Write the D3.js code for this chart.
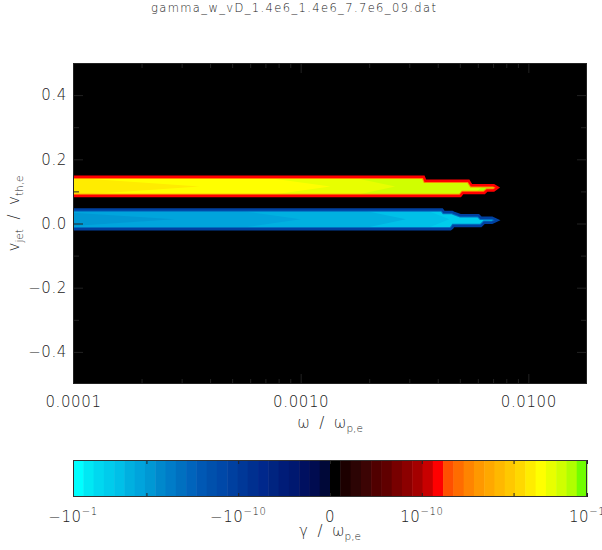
<!DOCTYPE html>
<html>
<head>
<meta charset="utf-8">
<script src="https://cdn.jsdelivr.net/npm/d3@7"></script>
<style>
  body { margin: 0; background: #fff; }
  svg { display: block; }
  text { font-family: 'DejaVu Sans', sans-serif; font-weight: 200; fill: #222; white-space: pre; }
</style>
</head>
<body>
<div id="chart"></div>
<script>
// ---- data ----
const titleText = 'gamma_w_vD_1.4e6_1.4e6_7.7e6_09.dat';

const omegaDomain = [1e-4, 0.0181];
const vDomain = [-0.5, 0.5];
const xMajorTicks = [1e-4, 1e-3, 1e-2];
const yMajorTicks = [-0.4, -0.2, 0, 0.2, 0.4];
const yMinorTicks = [-0.3, -0.1, 0.1, 0.3];

// growth region (gamma > 0), edges in (omega, v_jet)
const yellowOmega = [5e-5, 3.47e-3, 3.53e-3, 5.03e-3, 5.15e-3, 5.47e-3, 5.63e-3, 6.41e-3, 6.59e-3, 7.05e-3, 7.34e-3];
const yellowTop = [0.146, 0.146, 0.133, 0.133, 0.133, 0.133, 0.119, 0.119, 0.119, 0.119, 0.112];
const yellowBot = [0.086, 0.086, 0.086, 0.086, 0.095, 0.095, 0.095, 0.095, 0.103, 0.103, 0.112];
// inner contour levels (colour index, omega at band edge, omega at band centre)
const yellowLevels = [44, 45, 46, 47, 48];
const yellowWedgeEdge = [null, 8.8e-5, 6.7e-4, 1.65e-3, 5.6e-3];
const yellowWedgeTip = [null, 3.6e-4, 1.35e-3, 2.6e-3, 6.3e-3];
const yellowCentre = 0.115;

// damping region (gamma < 0)
const blueOmega = [5e-5, 4.18e-3, 4.26e-3, 4.55e-3, 4.63e-3, 4.69e-3, 5.03e-3, 6.04e-3, 6.19e-3, 6.41e-3, 6.93e-3, 7.32e-3];
const blueTop = [0.044, 0.044, 0.036, 0.036, 0.036, 0.034, 0.026, 0.026, 0.018, 0.018, 0.018, 0.010];
const blueBot = [-0.018, -0.018, -0.018, -0.018, -0.014, -0.008, -0.008, -0.008, -0.008, 0.0025, 0.0025, 0.010];
const blueLevels = [7, 6, 5, 4, 3, 2];
const blueWedgeEdge = [null, 5.9e-5, 4.9e-4, 1.8e-3, 3.5e-3, 6.0e-3];
const blueWedgeTip = [null, 2.8e-4, 1.0e-3, 2.9e-3, 4.5e-3, 6.8e-3];
const blueCentre = 0.013;

// colour bar: signed log axis, t = sign * (log10|gamma| + 15)
const cbarColors = [
  '#00ffff', '#00e8f4', '#00d8f0', '#00ccec', '#00c0e8', '#00b0e0', '#00a4dc', '#0098d4', '#0088cc', '#007cc8',
  '#0070c0', '#0064bc', '#0058b4', '#0050ac', '#0048a8', '#0040a0', '#003898', '#003090', '#00288c', '#002480',
  '#001c78', '#001870', '#001060', '#000c50', '#000838',
  '#000000', '#1c0000', '#2c0404', '#3c0404', '#500000', '#600000', '#780000', '#8c0000', '#a40000', '#c80000',
  '#ff0000', '#ff5000', '#ff6c00', '#ff8400', '#ff9800', '#ffa800', '#ffb800', '#ffc800', '#ffd800', '#ffec00',
  '#ffff00', '#e8ff00', '#d0ff00', '#b0ff00', '#70ff00'
];
const cbarDomain = [-14, 14];
const cbarTicks = [-14, -10, -5, 0, 5, 10, 14];
const cbarTickLabels = [
  [['−10', 0], ['−1', -1]],
  [],
  [['−10', 0], ['−10', -1]],
  [['0', 0]],
  [['10', 0], ['−10', -1]],
  [],
  [['10', 0], ['−1', -1]]
];
const xTitleParts = [['ω  /  ω', 0], ['p,e', 1]];
const yTitleParts = [['v', 0], ['jet', 1], ['  /  ', 0], ['v', 0], ['th,e', 1]];
const cTitleParts = [['γ  /  ω', 0], ['p,e', 1]];

// ---- layout ----
const width = 602;
const height = 550;
const plotL = 73, plotR = 587, plotT = 63, plotB = 384;
const cbarT = 460, cbarB = 497;

const svg = d3.select('#chart').append('svg')
  .attr('width', width)
  .attr('height', height);
const defs = svg.append('defs');

const x = d3.scaleLog().domain(omegaDomain).range([plotL, plotR]);
const y = d3.scaleLinear().domain(vDomain).range([plotB, plotT]);
const cb = d3.scaleLinear().domain(cbarDomain).range([plotL, plotR]);

// text with sub/superscripts
function richText(sel, parts, size, smallSize) {
  let off = 0;
  parts.forEach(p => {
    const shift = p[1] === 1 ? 4 : p[1] === -1 ? -7 : 0;
    sel.append('tspan')
      .attr('dy', shift - off)
      .attr('font-size', p[1] === 0 ? size : smallSize)
      .text(p[0]);
    off = shift;
  });
}

svg.append('text')
  .attr('x', 293.5)
  .attr('y', 12)
  .attr('text-anchor', 'middle')
  .attr('font-size', 11.5)
  .attr('textLength', 285)
  .attr('lengthAdjust', 'spacing')
  .text(titleText);

// plot area
defs.append('clipPath').attr('id', 'plot-clip')
  .append('rect')
  .attr('x', plotL).attr('y', plotT)
  .attr('width', plotR - plotL).attr('height', plotB - plotT);

svg.append('rect')
  .attr('x', plotL).attr('y', plotT)
  .attr('width', plotR - plotL).attr('height', plotB - plotT)
  .attr('fill', '#000');

const plot = svg.append('g').attr('clip-path', 'url(#plot-clip)');

const area = d3.area()
  .x(d => x(d.w))
  .y0(d => y(d.b))
  .y1(d => y(d.t));
const line = d3.line().x(d => x(d[0])).y(d => y(d[1]));

function drawBand(id, omega, top, bot, levels, edges, tips, centre, outerCol, innerCol) {
  const pts = omega.map((w, i) => ({ w, t: top[i], b: bot[i] }));
  const half = (d3.max(top) - d3.min(bot)) / 2;
  defs.append('clipPath').attr('id', id)
    .append('path').attr('d', area(pts));
  const g = plot.append('g').attr('clip-path', `url(#${id})`);
  g.append('path').attr('d', area(pts)).attr('fill', cbarColors[levels[0]]);
  levels.forEach((lv, k) => {
    if (k === 0) return;
    const poly = [
      [edges[k], centre + 1], [edges[k], centre + half], [tips[k], centre],
      [edges[k], centre - half], [edges[k], centre - 1], [1, centre - 1], [1, centre + 1]
    ];
    g.append('path').attr('d', line(poly) + 'Z').attr('fill', cbarColors[lv]);
  });
  g.append('path').attr('d', area(pts))
    .attr('fill', 'none').attr('stroke', innerCol).attr('stroke-width', 4.5);
  plot.append('path').attr('d', area(pts))
    .attr('fill', 'none').attr('stroke', outerCol).attr('stroke-width', 2.5);
}

drawBand('yellow-clip', yellowOmega, yellowTop, yellowBot, yellowLevels,
  yellowWedgeEdge, yellowWedgeTip, yellowCentre, cbarColors[35], cbarColors[38]);
drawBand('blue-clip', blueOmega, blueTop, blueBot, blueLevels,
  blueWedgeEdge, blueWedgeTip, blueCentre, cbarColors[15], cbarColors[10]);

// axes, ticks pointing inwards
const xMinor = x.ticks().filter(v => xMajorTicks.indexOf(v) < 0);

function styleAxis(g) {
  g.select('.domain').remove();
  g.attr('color', '#222')
    .attr('font-size', 15)
    .attr('font-family', "'DejaVu Sans', sans-serif");
  g.selectAll('text').attr('letter-spacing', 0.6);
}

svg.append('g')
  .attr('transform', `translate(0,${plotB})`)
  .call(d3.axisBottom(x).tickValues(xMajorTicks).tickSize(-10).tickPadding(12.3).tickFormat(d3.format('.4f')))
  .call(styleAxis);
svg.append('g')
  .attr('transform', `translate(0,${plotB})`)
  .call(d3.axisBottom(x).tickValues(xMinor).tickSize(-5).tickFormat(''))
  .call(styleAxis);
svg.append('g')
  .attr('transform', `translate(0,${plotT})`)
  .call(d3.axisTop(x).tickValues(xMajorTicks).tickSize(-10).tickFormat(''))
  .call(styleAxis);
svg.append('g')
  .attr('transform', `translate(0,${plotT})`)
  .call(d3.axisTop(x).tickValues(xMinor).tickSize(-5).tickFormat(''))
  .call(styleAxis);

svg.append('g')
  .attr('transform', `translate(${plotL},0)`)
  .call(d3.axisLeft(y).tickValues(yMajorTicks).tickSize(-10).tickPadding(6).tickFormat(d3.format('.1f')))
  .call(styleAxis);
svg.append('g')
  .attr('transform', `translate(${plotL},0)`)
  .call(d3.axisLeft(y).tickValues(yMinorTicks).tickSize(-6).tickFormat(''))
  .call(styleAxis);
svg.append('g')
  .attr('transform', `translate(${plotR},0)`)
  .call(d3.axisRight(y).tickValues(yMajorTicks).tickSize(-10).tickFormat(''))
  .call(styleAxis);
svg.append('g')
  .attr('transform', `translate(${plotR},0)`)
  .call(d3.axisRight(y).tickValues(yMinorTicks).tickSize(-6).tickFormat(''))
  .call(styleAxis);

svg.append('rect')
  .attr('x', plotL + 0.5).attr('y', plotT + 0.5)
  .attr('width', plotR - plotL - 1).attr('height', plotB - plotT - 1)
  .attr('fill', 'none').attr('stroke', '#222');

// axis titles
richText(svg.append('text')
  .attr('x', 330).attr('y', 428)
  .attr('text-anchor', 'middle'), xTitleParts, 15, 10.5);

richText(svg.append('text')
  .attr('transform', 'translate(19,213.5) rotate(-90)')
  .attr('text-anchor', 'middle'), yTitleParts, 15, 10.5);

// colour bar
const nBands = cbarColors.length;
const bandW = (cbarDomain[1] - cbarDomain[0]) / nBands;
svg.append('g').selectAll('rect')
  .data(cbarColors)
  .join('rect')
  .attr('x', (d, i) => cb(cbarDomain[0] + i * bandW))
  .attr('y', cbarT)
  .attr('width', (d, i) => cb(cbarDomain[0] + (i + 1) * bandW) - cb(cbarDomain[0] + i * bandW) + 0.5)
  .attr('height', cbarB - cbarT)
  .attr('fill', d => d);

svg.append('g')
  .attr('transform', `translate(0,${cbarT})`)
  .call(d3.axisBottom(cb).tickValues(cbarTicks).tickSize(4).tickFormat(''))
  .call(styleAxis);
svg.append('g')
  .attr('transform', `translate(0,${cbarB})`)
  .call(d3.axisTop(cb).tickValues(cbarTicks).tickSize(4).tickFormat(''))
  .call(styleAxis);

svg.append('rect')
  .attr('x', plotL + 0.5).attr('y', cbarT + 0.5)
  .attr('width', plotR - plotL - 1).attr('height', cbarB - cbarT - 1)
  .attr('fill', 'none').attr('stroke', '#333');

cbarTicks.forEach((t, i) => {
  if (!cbarTickLabels[i].length) return;
  richText(svg.append('text')
    .attr('x', cb(t)).attr('y', 522)
    .attr('text-anchor', 'middle')
    .attr('letter-spacing', 0.6), cbarTickLabels[i], 15, 10);
});

richText(svg.append('text')
  .attr('x', 330).attr('y', 536)
  .attr('text-anchor', 'middle'), cTitleParts, 15, 10.5);
</script>
</body>
</html>
